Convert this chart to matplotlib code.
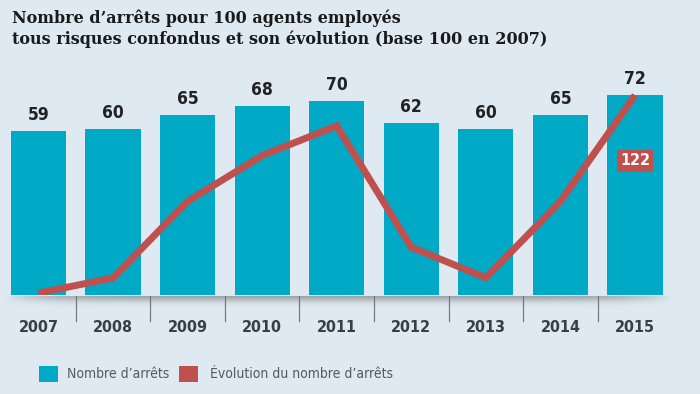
import numpy as np
import matplotlib.pyplot as plt

annees = ['2007', '2008', '2009', '2010', '2011', '2012', '2013', '2014', '2015']
nb_arrets = [59, 60, 65, 68, 70, 62, 60, 65, 72]
evolution = [100, 101.7, 110.2, 115.3, 118.6, 105.1, 101.7, 110.2, 122]

fond = '#dee9f1'
bleu = '#00a9c6'
rouge = '#c0504d'

fig = plt.figure(figsize=(7, 3.94), dpi=100, facecolor=fond)

# titre
fig.text(0.017, 0.975, "Nombre d\u2019arrêts pour 100 agents employés\ntous risques confondus et son évolution (base 100 en 2007)",
         ha='left', va='top', fontsize=11.5, fontweight='bold', family='DejaVu Serif',
         color='#1a1a1a', linespacing=1.2)

# ombre sous les barres
ax_sh = fig.add_axes([0.005, 0.21, 0.955, 0.04])
yy = np.linspace(0, 1, 50)[:, None]
xx = np.linspace(-1, 1, 400)[None, :]
alpha = 0.5 * np.exp(-(yy / 0.4) ** 2) * np.clip(1 - np.abs(xx) ** 8, 0, 1)
img = np.zeros((50, 400, 4))
img[..., :3] = 0.35
img[..., 3] = alpha
ax_sh.imshow(img, aspect='auto', extent=[0, 1, 0, 1], origin='upper')
ax_sh.axis('off')

ax = fig.add_axes([0, 0.251, 1, 0.596])
ax.set_facecolor('none')
x = np.arange(len(annees))
ax.bar(x, nb_arrets, width=0.74, color=bleu, zorder=2)
for xi, v in zip(x, nb_arrets):
    ax.text(xi, v + 2.5, str(v), ha='center', va='bottom', fontsize=12.5,
            fontweight='bold', color='#222222', fontstretch='condensed')
ax.set_xlim(-0.516, 8.871)
ax.set_ylim(0, 84.6)
ax.axis('off')

ax2 = ax.twinx()
ax2.plot(x, evolution, color=rouge, lw=5, solid_capstyle='butt', solid_joinstyle='miter', zorder=3)
ax2.set_ylim(99.78, 125.89)
ax2.set_xlim(-0.516, 8.871)
ax2.axis('off')
ax2.text(x[-1], evolution[-1] - 7.3, '122', ha='center', va='center', fontsize=11.5,
         fontweight='bold', color='white', fontstretch='condensed',
         bbox=dict(boxstyle='square,pad=0.2', fc=rouge, ec='none'))

# axe des années
ax3 = fig.add_axes([0, 0.09, 1, 0.16])
ax3.set_xlim(-0.516, 8.871)
ax3.set_ylim(0, 1)
ax3.axis('off')
for i in range(len(annees) - 1):
    ax3.plot([i + 0.5, i + 0.5], [0.595, 1.0], color='#7a7a7a', lw=0.9)
for xi, a in zip(x, annees):
    ax3.text(xi, 0.5, a, ha='center', va='center', fontsize=11.5, fontweight='bold',
             color='#3a3f45', fontstretch='condensed')

# légende
fig.patches.append(plt.Rectangle((0.055, 0.03), 0.028, 0.04, transform=fig.transFigure, fc=bleu, ec='none'))
fig.text(0.096, 0.05, "Nombre d\u2019arrêts", ha='left', va='center', fontsize=10, color='#555a60', fontstretch='condensed')
fig.patches.append(plt.Rectangle((0.255, 0.03), 0.028, 0.04, transform=fig.transFigure, fc=rouge, ec='none'))
fig.text(0.3, 0.05, "Évolution du nombre d\u2019arrêts", ha='left', va='center', fontsize=10, color='#555a60', fontstretch='condensed')

fig.savefig('out.png', dpi=100, facecolor=fond)
